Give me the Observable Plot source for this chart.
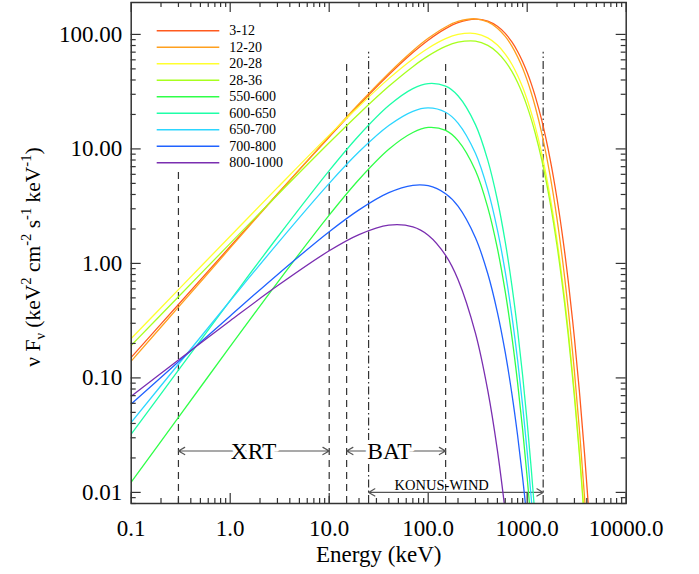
<!DOCTYPE html>
<html>
<head>
<meta charset="utf-8">
<script src="https://cdn.jsdelivr.net/npm/d3@7"></script>
<script src="https://cdn.jsdelivr.net/npm/@observablehq/plot@0.6"></script>
<style>
  html, body { margin: 0; padding: 0; background: #fff; }
  #chart { position: relative; width: 699px; height: 574px; }
</style>
</head>
<body>
<div id="chart"></div>
<script>
// Photon energies (keV) at which each spectrum is tabulated
const energy = [0.1, 0.3, 1, 3, 10, 20, 40, 70, 100, 150,
                200, 300, 400, 500, 600, 700, 800, 900, 1000, 1100,
                1200, 1400, 1700, 2000, 2300, 2600, 3000, 3400, 3800, 4200, 4600];

// Time intervals (s) and their colours
const intervals = ["3-12", "12-20", "20-28", "28-36", "550-600", "600-650", "650-700", "700-800", "800-1000"];
const colors = ["#ff5a1e", "#ffa01e", "#ffff2e", "#a8ff1e", "#30ff48", "#1effa8", "#2cd6ff", "#2062ff", "#7a2eb0"];

// νFν (keV² cm⁻² s⁻¹ keV⁻¹) per interval, one value per energy
const flux_3_12 = [0.151, 0.438, 1.404, 4.05, 12.7, 24.2, 44.4, 69.4, 89.1, 112.4,
                   126.6, 136.2, 130.7, 117.7, 102.0, 85.9, 71.0, 57.8, 46.4, 37.0,
                   29.2, 17.9, 8.24, 3.69, 1.615, 0.696, 0.222, 0.0694, 0.0215, 0.00656, 0.00199];
const flux_12_20 = [0.140, 0.415, 1.365, 4.02, 12.9, 24.8, 45.9, 72.0, 92.4, 116.0,
                    129.7, 136.9, 128.7, 113.4, 96.0, 79.0, 63.7, 50.6, 39.7, 30.8,
                    23.7, 13.8, 5.90, 2.45, 0.991, 0.395, 0.1134, 0.0320, 0.00892, 0.00245, null];
const flux_20_28 = [0.221, 0.590, 1.729, 4.59, 13.2, 23.6, 41.1, 61.1, 75.8, 91.8,
                    99.9, 101.8, 93.4, 80.8, 67.4, 54.9, 43.8, 34.5, 26.9, 20.7,
                    15.9, 9.17, 3.88, 1.599, 0.645, 0.256, 0.0735, 0.0208, 0.00578, null, null];
const flux_28_36 = [0.1924, 0.512, 1.495, 3.96, 11.31, 20.3, 35.2, 52.3, 64.9, 78.5,
                    85.5, 87.4, 80.3, 69.6, 58.2, 47.5, 38.0, 30.0, 23.4, 18.1,
                    13.9, 8.08, 3.45, 1.433, 0.583, 0.234, 0.0678, 0.0193, 0.00546, null, null];
const flux_550_600 = [0.01227, 0.0452, 0.1881, 0.680, 2.642, 5.41, 9.93, 13.9, 15.4, 14.5,
                      11.8, 6.47, 3.07, 1.351, 0.566, 0.229, 0.0906, 0.0352, 0.01344, 0.00508,
                      null, null, null, null, null, null, null, null, null, null, null];
const flux_600_650 = [0.03225, 0.1168, 0.4762, 1.692, 6.46, 13.1, 23.9, 33.6, 37.2, 35.3,
                      29.1, 16.3, 7.94, 3.58, 1.542, 0.642, 0.261, 0.1041, 0.0409, 0.0159,
                      0.00612, null, null, null, null, null, null, null, null, null, null];
const flux_650_700 = [0.0409, 0.1316, 0.4718, 1.490, 5.00, 9.43, 16.0, 21.3, 22.8, 20.9,
                      16.8, 9.15, 4.39, 1.965, 0.842, 0.350, 0.1425, 0.0570, 0.0225, 0.00879,
                      0.0034, null, null, null, null, null, null, null, null, null, null];
const flux_700_800 = [0.0593, 0.1383, 0.348, 0.798, 1.891, 2.937, 4.15, 4.81, 4.77, 4.06,
                      3.16, 1.676, 0.812, 0.374, 0.167, 0.0730, 0.0314, 0.01334, 0.00561, null,
                      null, null, null, null, null, null, null, null, null, null, null];
const flux_800_1000 = [0.0692, 0.1432, 0.3155, 0.637, 1.289, 1.785, 2.159, 2.087, 1.765, 1.177,
                       0.725, 0.246, 0.0773, 0.02325, 0.00681, null, null, null, null, null,
                       null, null, null, null, null, null, null, null, null, null, null];
const fluxSeries = [flux_3_12, flux_12_20, flux_20_28, flux_28_36, flux_550_600,
                    flux_600_650, flux_650_700, flux_700_800, flux_800_1000];

// Instrument energy ranges
const bandNames = ["XRT", "BAT", "KONUS-WIND"];
const bandLow = [0.3, 15, 25];
const bandHigh = [10, 150, 1450];
const bandLineTop = [6.8, 60, 70];      // flux where the range markers stop
const bandArrowLevel = [0.023, 0.023, 0.01];
const bandLabelAt = [1.72, 40.6, 137];

// Axis ticks
const xDomain = [0.1, 10000];
const yDomain = [0.008, 190];
const xMajor = [0.1, 1, 10, 100, 1000, 10000];
const xTickLabels = ["0.1", "1.0", "10.0", "100.0", "1000.0", "10000.0"];
const yMajor = [0.01, 0.1, 1, 10, 100];
const yTickLabels = ["0.01", "0.10", "1.00", "10.00", "100.00"];
const minorMultipliers = [2, 3, 4, 5, 6, 7, 8, 9];

const xMinor = [];
for (const base of [0.1, 1, 10, 100, 1000]) for (const m of minorMultipliers) xMinor.push(base * m);
const yMinor = [0.008, 0.009];
for (const base of [0.01, 0.1, 1, 10]) for (const m of minorMultipliers) yMinor.push(base * m);

// Long-form table for the line mark
const rows = [];
fluxSeries.forEach((vals, j) => vals.forEach((v, i) => {
  if (v != null) rows.push({energy: energy[i], flux: v, interval: intervals[j]});
}));

const edges = [];
const arrows = [];
bandNames.forEach((name, i) => {
  for (const e of [bandLow[i], bandHigh[i]]) edges.push({energy: e, top: bandLineTop[i], bottom: yDomain[0], band: name});
  for (const e of [bandLow[i], bandHigh[i]]) arrows.push({from: bandLabelAt[i], to: e, level: bandArrowLevel[i], band: name});
});
const bandLabels = bandNames.map((name, i) => ({name, x: bandLabelAt[i], y: bandArrowLevel[i]}));

const W = 699, H = 574;
const mL = 130.7, mR = 73.3, mT = 2, mB = 71;
const plotW = W - mL - mR, plotH = H - mT - mB;
const serif = "Liberation Serif, Times New Roman, serif";
const ink = "#000";
const axisInk = "#333";

const plot = Plot.plot({
  width: W, height: H,
  marginLeft: mL, marginRight: mR, marginTop: mT, marginBottom: mB,
  style: {fontFamily: serif, background: "#fff", color: ink, overflow: "visible"},
  x: {type: "log", domain: xDomain, axis: null},
  y: {type: "log", domain: yDomain, axis: null},
  color: {domain: intervals, range: colors},
  marks: [
    // range markers: XRT and BAT dashed, Konus-Wind dash-dot
    Plot.ruleX(edges.filter(d => d.band !== "KONUS-WIND"), {x: "energy", y1: "bottom", y2: "top", stroke: axisInk, strokeWidth: 1.2, strokeDasharray: "7,5"}),
    Plot.ruleX(edges.filter(d => d.band === "KONUS-WIND"), {x: "energy", y1: "bottom", y2: "top", stroke: axisInk, strokeWidth: 1.2, strokeDasharray: "8,3,1.5,3"}),
    Plot.arrow(arrows, {x1: "from", x2: "to", y1: "level", y2: "level", stroke: "#555", strokeWidth: 1.2, headLength: 9, headAngle: 60}),
    Plot.text(bandLabels.filter(d => d.name !== "KONUS-WIND"), {
      x: "x", y: "y", text: "name", fontSize: 23.5, lineAnchor: "middle",
      fill: ink, stroke: "#fff", strokeWidth: 8, paintOrder: "stroke"
    }),
    Plot.text(bandLabels.filter(d => d.name === "KONUS-WIND"), {
      x: "x", y: "y", text: "name", fontSize: 14.5, lineAnchor: "bottom", dy: -2,
      fill: ink, ariaLabel: "konus-label"
    }),
    // spectra
    Plot.line(rows, {x: "energy", y: "flux", z: "interval", stroke: "interval", strokeWidth: 1.3, curve: "catmull-rom", clip: true}),
    // frame and inward ticks
    Plot.frame({stroke: axisInk, strokeWidth: 1.5}),
    Plot.tickX(xMajor, {x: d => d, insetTop: plotH - 10, stroke: axisInk, strokeWidth: 1.2}),
    Plot.tickX(xMajor, {x: d => d, insetBottom: plotH - 10, stroke: axisInk, strokeWidth: 1.2}),
    Plot.tickX(xMinor, {x: d => d, insetTop: plotH - 5, stroke: axisInk, strokeWidth: 1.2}),
    Plot.tickX(xMinor, {x: d => d, insetBottom: plotH - 5, stroke: axisInk, strokeWidth: 1.2}),
    Plot.tickY(yMajor, {y: d => d, insetRight: plotW - 10, stroke: axisInk, strokeWidth: 1.2}),
    Plot.tickY(yMajor, {y: d => d, insetLeft: plotW - 10, stroke: axisInk, strokeWidth: 1.2}),
    Plot.tickY(yMinor, {y: d => d, insetRight: plotW - 5, stroke: axisInk, strokeWidth: 1.2}),
    Plot.tickY(yMinor, {y: d => d, insetLeft: plotW - 5, stroke: axisInk, strokeWidth: 1.2}),
    // tick labels
    Plot.text(xMajor, {x: d => d, text: (d, i) => xTickLabels[i], frameAnchor: "bottom", lineAnchor: "bottom", dy: 32, fontSize: 23, fill: ink}),
    Plot.text(yMajor, {y: d => d, text: (d, i) => yTickLabels[i], frameAnchor: "left", textAnchor: "end", lineAnchor: "middle", dx: -9, fontSize: 23, fill: ink}),
    Plot.text(["Energy (keV)"], {frameAnchor: "bottom", lineAnchor: "bottom", dy: 58, fontSize: 23, fill: ink})
  ]
});

const svg = d3.select(plot);
svg.selectAll("g[aria-label='konus-label'] text").attr("letter-spacing", "2.2px");

// y-axis title with sub/superscripts
const yl = svg.append("text")
  .attr("transform", "translate(40,257) rotate(-90)")
  .attr("text-anchor", "middle")
  .attr("font-family", serif)
  .attr("font-size", 21.5)
  .attr("fill", ink);
const parts = [
  ["ν F", 0, null], ["ν", 5, 14.5], [" (keV", -5, null], ["2", -9, 14.5], [" cm", 9, null],
  ["-2", -9, 14.5], [" s", 9, null], ["-1", -9, 14.5], [" keV", 9, null], ["-1", -9, 14.5], [")", 9, null]
];
for (const [t, dy, fs] of parts) {
  const ts = yl.append("tspan").attr("dy", dy).text(t);
  if (fs) ts.attr("font-size", fs);
}

// legend: line swatch + interval label
const legend = svg.append("g")
  .attr("font-family", serif)
  .attr("font-size", 14)
  .attr("text-anchor", "start")
  .attr("fill", ink);
intervals.forEach((name, i) => {
  const y = 30.7 + 16.5 * i;
  legend.append("line").attr("x1", 156.7).attr("x2", 219.3).attr("y1", y).attr("y2", y)
    .attr("stroke", colors[i]).attr("stroke-width", 1.5);
  legend.append("text").attr("x", 229.3).attr("y", y).attr("dy", "0.33em").text(name);
});

document.getElementById("chart").appendChild(plot);
</script>
</body>
</html>
